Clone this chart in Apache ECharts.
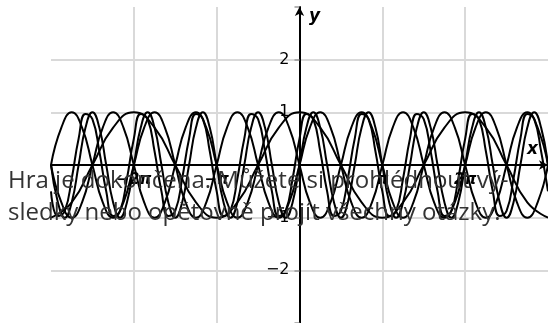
<html>
    <head>
        <meta charset="utf-8">
        <script src="https://cdn.jsdelivr.net/npm/echarts@6/dist/echarts.min.js"></script>
        <style>
            html, body { margin: 0; padding: 0; background: #fff; }
            #main { width: 548px; height: 323px; }
        </style>
    </head>
    <body>
        <div id="main"></div>
        <script>

        // x values are in units of pi (one cell = pi)
        var xTickLabels = {'-2': '\u22122\u03c0', '-1': '\u2212\u03c0', '1': '\u03c0', '2': '2\u03c0'};
        var yTickLabels = {'2': '2', '1': '1', '-1': '\u22121', '-2': '\u22122'};

        // curve samples: start x, step x, y values
        var cosX = {start: -3, step: 1 / 4, y: [-1, -.71, 0, .71, 1, .71, 0, -.71, -1, -.71, 0, .71, 1, .71, 0, -.71, -1, -.71, 0, .71, 1, .71, 0, -.71, -1]};
        var sin2X = {start: -3, step: 1 / 8, y: [
            0, .71, 1, .71, 0, -.71, -1, -.71, 0, .71, 1, .71, 0, -.71, -1, -.71,
            0, .71, 1, .71, 0, -.71, -1, -.71, 0, .71, 1, .71, 0, -.71, -1, -.71,
            0, .71, 1, .71, 0, -.71, -1, -.71, 0, .71, 1, .71, 0, -.71, -1, -.71, 0]};
        var negSin2X = {start: -3, step: 1 / 8, y: [
            0, -.71, -1, -.71, 0, .71, 1, .71, 0, -.71, -1, -.71, 0, .71, 1, .71,
            0, -.71, -1, -.71, 0, .71, 1, .71, 0, -.71, -1, -.71, 0, .71, 1, .71,
            0, -.71, -1, -.71, 0, .71, 1, .71, 0, -.71, -1, -.71, 0, .71, 1, .71, 0]};
        var sin3X = {start: -3, step: 1 / 12, y: [
            0, -.71, -1, -.71, 0, .71, 1, .71, 0, -.71, -1, -.71, 0, .71, 1, .71,
            0, -.71, -1, -.71, 0, .71, 1, .71, 0, -.71, -1, -.71, 0, .71, 1, .71,
            0, -.71, -1, -.71, 0, .71, 1, .71, 0, -.71, -1, -.71, 0, .71, 1, .71,
            0, -.71, -1, -.71, 0, .71, 1, .71, 0, -.71, -1, -.71, 0, .71, 1, .71,
            0, -.71, -1, -.71, 0, .71, 1, .71, 0]};
        var sin3XShift = {start: -3, step: 1 / 12, y: [
            -.5, -.97, -.87, -.26, .5, .97, .87, .26, -.5, -.97, -.87, -.26, .5, .97, .87, .26,
            -.5, -.97, -.87, -.26, .5, .97, .87, .26, -.5, -.97, -.87, -.26, .5, .97, .87, .26,
            -.5, -.97, -.87, -.26, .5, .97, .87, .26, -.5, -.97, -.87, -.26, .5, .97, .87, .26,
            -.5, -.97, -.87, -.26, .5, .97, .87, .26, -.5, -.97, -.87, -.26, .5, .97, .87, .26,
            -.5, -.97, -.87, -.26, .5, .97, .87, .26, -.5]};

        var curves = [cosX, sin2X, negSin2X, sin3X, sin3XShift];

        var message = 'Hra je dokon\u010dena. M\u016f\u017eete si prohl\u00e9dnout v\u00fd-\nsledky nebo op\u011btovn\u011b proj\u00edt v\u0161echny ot\u00e1zky.';

        function toPairs(c) {
            return c.y.map(function (v, i) {
                return [c.start + i * c.step, v];
            });
        }

        var gridColor = '#d9d9d9';

        option = {
            animation: false,
            backgroundColor: '#fff',
            grid: {
                left: 51,
                right: 0,
                top: 7,
                bottom: 0,
                outerBoundsMode: 'none',
                containLabel: false
            },
            xAxis: {
                type: 'value',
                min: -3,
                max: 3,
                interval: 1,
                position: 'bottom',
                offset: -158,
                axisLine: {
                    onZero: false,
                    symbol: ['none', 'arrow'],
                    symbolSize: [7, 9],
                    lineStyle: {color: '#000', width: 2}
                },
                axisTick: {show: false},
                axisLabel: {
                    margin: 8,
                    color: '#000',
                    fontFamily: 'DejaVu Sans',
                    fontSize: 15,
                    fontWeight: 'bold',
                    fontStyle: 'italic',
                    formatter: function (v) {
                        return xTickLabels[v] || '';
                    }
                },
                splitLine: {
                    show: true,
                    showMinLine: false,
                    showMaxLine: false,
                    lineStyle: {color: gridColor, width: 2}
                }
            },
            yAxis: {
                type: 'value',
                min: -3,
                max: 3,
                interval: 1,
                position: 'left',
                offset: -248.5,
                axisLine: {
                    onZero: false,
                    symbol: ['none', 'arrow'],
                    symbolSize: [7, 9],
                    lineStyle: {color: '#000', width: 2}
                },
                axisTick: {
                    show: true,
                    length: 5,
                    lineStyle: {color: '#999', width: 1.5}
                },
                axisLabel: {
                    margin: 10,
                    color: '#000',
                    fontFamily: 'DejaVu Sans',
                    fontSize: 16,
                    formatter: function (v) {
                        return yTickLabels[v] || '';
                    }
                },
                splitLine: {
                    show: true,
                    showMinLine: false,
                    showMaxLine: false,
                    lineStyle: {color: gridColor, width: 2}
                }
            },
            series: curves.map(function (c) {
                return {
                    type: 'line',
                    data: toPairs(c),
                    showSymbol: false,
                    smooth: true,
                    lineStyle: {color: '#000', width: 2},
                    z: 3
                };
            }),
            graphic: [
                {
                    type: 'text',
                    left: 309,
                    top: 8,
                    style: {
                        text: 'y',
                        font: 'italic bold 17px "DejaVu Sans"',
                        fill: '#000'
                    },
                    z: 10
                },
                {
                    type: 'text',
                    left: 527,
                    top: 141,
                    style: {
                        text: 'x',
                        font: 'italic bold 17px "DejaVu Sans"',
                        fill: '#000'
                    },
                    z: 10
                },
                {
                    type: 'text',
                    left: 8,
                    top: 165,
                    style: {
                        text: message,
                        font: '24px "Open Sans"',
                        lineHeight: 32,
                        fill: '#333'
                    },
                    z: 20
                }
            ]
        };

        var myChart = echarts.init(document.getElementById('main'));
        myChart.setOption(option);

        </script>
    </body>
</html>
